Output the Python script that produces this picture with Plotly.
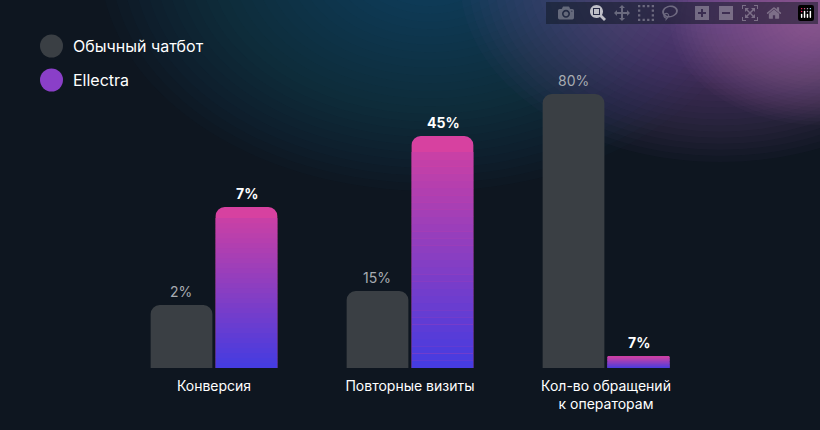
import plotly.graph_objects as go

categories = ["Конверсия", "Повторные визиты", "Кол-во обращений<br>к операторам"]
chatbot_labels = ["2%", "15%", "80%"]
ellectra_labels = ["7%", "45%", "7%"]
# drawn bar heights (visual scale)
chatbot_heights = [63, 77, 274]
ellectra_heights = [161, 232, 12]

W, H = 820, 430
L, R, T, B = 116, 116, 40, 62
PW, PH = W - L - R, H - T - B

def px(x): return (x - L) / PW
def py(y): return (H - B - y) / PH

def lerp(c1, c2, t):
    return "rgb(%d,%d,%d)" % tuple(int(a + (b - a) * t) for a, b in zip(c1, c2))

BOT = (70, 60, 225)
TOP = (215, 65, 160)

fig = go.Figure()
fig.add_bar(x=categories, y=chatbot_heights, offsetgroup="a",
            marker=dict(color="#3a3f44", cornerradius=9, line_width=0), hoverinfo="skip")
fig.add_bar(x=categories, y=ellectra_heights, offsetgroup="b",
            marker=dict(color=lerp(BOT, TOP, 1), cornerradius=9, line_width=0), hoverinfo="skip")
N = 30
cover = 0.93
for i in range(N):
    f0, f1 = i / N, (i + 1) / N
    base = [h * cover * f0 for h in ellectra_heights]
    seg = [h * cover * (f1 - f0) * 1.03 for h in ellectra_heights]
    fig.add_bar(x=categories, y=seg, base=base, offsetgroup="b",
                marker=dict(color=lerp(BOT, TOP, f0 * cover), line_width=0), hoverinfo="skip")

shapes = []
def glow(cx, cy, rmax, color, n=30, op=0.025):
    for k in range(n):
        r = rmax * (1 - k / n)
        shapes.append(dict(type="circle", xref="paper", yref="paper", layer="below",
                           x0=px(cx - r), x1=px(cx + r), y0=py(cy + r * 0.7), y1=py(cy - r * 0.7),
                           fillcolor=color, opacity=op, line_width=0))
glow(430, -40, 330, "rgb(40,120,160)", op=0.022)
glow(720, -20, 260, "rgb(150,110,190)", op=0.03)
glow(820, 20, 150, "rgb(190,120,200)", op=0.03)

for yy, col in [(46, "#3a3f44"), (80, "#8a3fc8")]:
    shapes.append(dict(type="circle", xref="paper", yref="paper", x0=px(40), x1=px(63), y0=py(yy + 11.5), y1=py(yy - 11.5),
                       fillcolor=col, line_width=0))
ann = [
    dict(x=px(71), y=py(46), text="Обычный чатбот"),
    dict(x=px(71), y=py(80), text="Ellectra"),
]
ann = [dict(a, xref="paper", yref="paper", xanchor="left", yanchor="middle", showarrow=False,
            font=dict(color="white", size=16)) for a in ann]
for i, c in enumerate(categories):
    ann.append(dict(x=c, y=chatbot_heights[i], text=chatbot_labels[i], xshift=-33, yshift=14, showarrow=False,
                    font=dict(color="#a8acb2", size=14)))
    ann.append(dict(x=c, y=ellectra_heights[i], text="<b>" + ellectra_labels[i] + "</b>", xshift=33, yshift=14,
                    showarrow=False, font=dict(color="white", size=14)))

fig.update_layout(
    width=W, height=H, margin=dict(l=L, r=R, t=T, b=B),
    paper_bgcolor="#0e1620", plot_bgcolor="rgba(0,0,0,0)",
    barmode="group", bargap=0.337, bargroupgap=0.05, showlegend=False,
    font=dict(family="Inter, Noto Sans, sans-serif"),
    xaxis=dict(showgrid=False, zeroline=False, showline=False, ticks="",
               tickfont=dict(color="white", size=14), ticklabelstandoff=8),
    yaxis=dict(range=[0, PH], visible=False, showgrid=False),
    shapes=shapes, annotations=ann,
)
fig.write_html("out.html")
with open("out.html", encoding="utf-8") as f:
    html = f.read()
html = html.replace("<body>", '<body style="margin:0;background:#0e1620">', 1)
with open("out.html", "w", encoding="utf-8") as f:
    f.write(html)
